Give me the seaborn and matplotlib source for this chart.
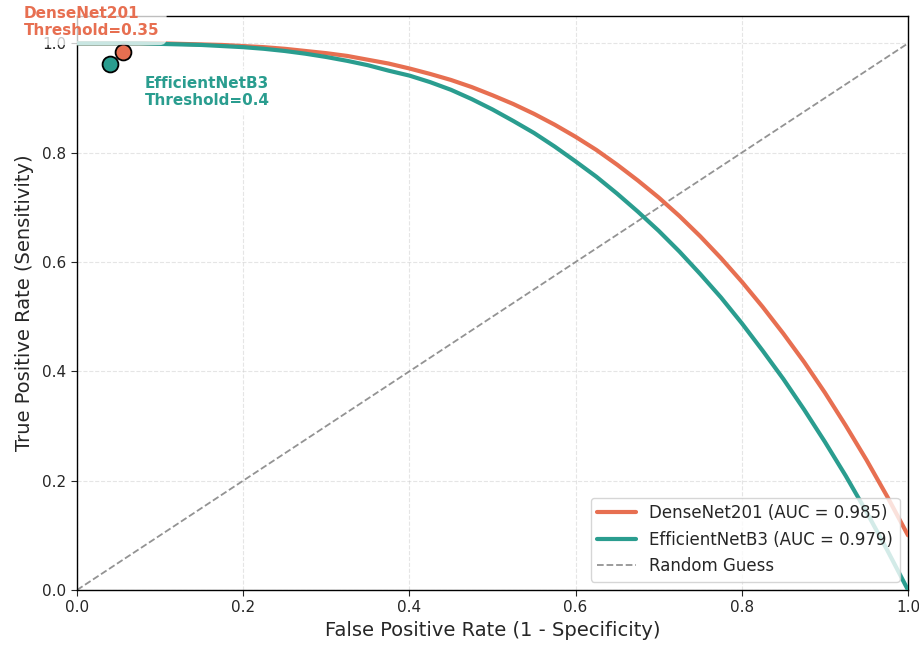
import numpy as np
import pandas as pd
import matplotlib
matplotlib.use("Agg")
import matplotlib.pyplot as plt
import seaborn as sns

# ---- data ----
fpr_grid = [0.0, 0.025, 0.05, 0.075, 0.1, 0.125, 0.15, 0.175, 0.2, 0.225,
            0.25, 0.275, 0.3, 0.325, 0.35, 0.375, 0.4, 0.425, 0.45, 0.475,
            0.5, 0.525, 0.55, 0.575, 0.6, 0.625, 0.65, 0.675, 0.7, 0.725,
            0.75, 0.775, 0.8, 0.825, 0.85, 0.875, 0.9, 0.925, 0.95, 0.975, 1.0]
tpr_densenet = [1.000, 1.000, 1.000, 1.000, 1.000, 0.999, 0.998, 0.997, 0.995, 0.993,
                0.990, 0.986, 0.982, 0.977, 0.970, 0.963, 0.954, 0.944, 0.933, 0.920,
                0.905, 0.889, 0.871, 0.851, 0.829, 0.805, 0.778, 0.749, 0.718, 0.684,
                0.647, 0.607, 0.564, 0.518, 0.469, 0.417, 0.361, 0.301, 0.238, 0.171, 0.100]
tpr_effnet = [1.000, 1.000, 1.000, 1.000, 0.999, 0.998, 0.997, 0.995, 0.993, 0.990,
              0.986, 0.981, 0.975, 0.968, 0.960, 0.950, 0.941, 0.929, 0.915, 0.898,
              0.879, 0.858, 0.836, 0.811, 0.784, 0.756, 0.725, 0.692, 0.657, 0.619,
              0.578, 0.535, 0.488, 0.438, 0.386, 0.330, 0.271, 0.209, 0.143, 0.073, 0.000]
models = ["DenseNet201", "EfficientNetB3"]
aucs = [0.985, 0.979]
thresholds = [0.35, 0.4]
opt_fpr = [0.055, 0.040]
opt_tpr = [0.984, 0.963]
colors = ["#E76F51", "#2A9D8F"]

labels = [f"{m} (AUC = {a:.3f})" for m, a in zip(models, aucs)]
df = pd.DataFrame({
    "fpr": fpr_grid * 2,
    "tpr": tpr_densenet + tpr_effnet,
    "model": [labels[0]] * len(fpr_grid) + [labels[1]] * len(fpr_grid),
})

sns.set_style("white")
plt.rcParams["font.family"] = ["DejaVu Sans"]

fig = plt.figure(figsize=(9.2, 6.5), dpi=100)
ax = fig.add_axes([77 / 920, 60 / 650, 831 / 920, 574 / 650])

sns.lineplot(data=df, x="fpr", y="tpr", hue="model", palette=colors,
             linewidth=3, ax=ax, sort=True, zorder=3)
ax.plot([0, 1], [0, 1], linestyle="--", color="gray", linewidth=1.3,
        alpha=0.85, label="Random Guess", zorder=2)

for i in range(2):
    ax.scatter([opt_fpr[i]], [opt_tpr[i]], s=130, color=colors[i],
               edgecolor="black", linewidth=1.3, zorder=6)

ax.annotate(f"{models[0]}\nThreshold={thresholds[0]}", xy=(opt_fpr[0], opt_tpr[0]),
            xytext=(-71, 10), textcoords="offset points", ha="left", va="bottom",
            fontsize=11, fontweight="bold", color=colors[0], zorder=7,
            bbox=dict(boxstyle="round,pad=0.45", fc="white", ec="none", alpha=0.75),
            annotation_clip=False)
ax.annotate(f"{models[1]}\nThreshold={thresholds[1]}", xy=(opt_fpr[1], opt_tpr[1]),
            xytext=(25, -9), textcoords="offset points", ha="left", va="top",
            fontsize=11, fontweight="bold", color=colors[1], zorder=7,
            bbox=dict(boxstyle="round,pad=0.45", fc="white", ec="none", alpha=0.75),
            annotation_clip=False)

ax.set_xlim(0, 1)
ax.set_ylim(0, 1.05)
ax.set_xticks([0, 0.2, 0.4, 0.6, 0.8, 1.0])
ax.set_yticks([0, 0.2, 0.4, 0.6, 0.8, 1.0])
ax.tick_params(axis="both", labelsize=11, length=4, left=True, bottom=True)
ax.grid(True, linestyle="--", alpha=0.5)
for s in ax.spines.values():
    s.set_color("black")
    s.set_linewidth(1.0)
ax.set_xlabel("False Positive Rate (1 - Specificity)", fontsize=14)
ax.set_ylabel("True Positive Rate (Sensitivity)", fontsize=14, labelpad=6)
ax.legend(loc="lower right", fontsize=12, framealpha=0.8, handlelength=2.3)

fig.savefig("out.png", dpi=100)
